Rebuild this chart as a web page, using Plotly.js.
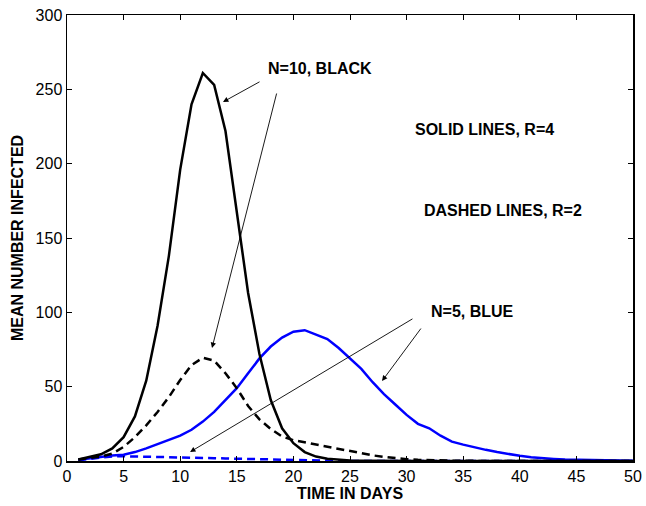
<!DOCTYPE html>
<html>
<head>
<meta charset="utf-8">
<script src="https://cdn.plot.ly/plotly-3.0.1.min.js"></script>
<style>html,body{margin:0;padding:0;background:#fff;}#chart{width:646px;height:506px;}</style>
</head>
<body>
<div id="chart"></div>
<script>
var days = [1,2,3,4,5,6,7,8,9,10,11,12,13,14,15,16,17,18,19,20,21,22,23,24,25,26,27,28,29,30,31,32,33,34,35,36,37,38,39,40,41,42,43,44,45,46,47,48,49,50];

// N=10, R=4 (solid black)
var blackSolid = [1,2.5,4.5,8.5,16,30,54,91,138,196,240,261,253,222,168,113,72,41,22,12,6,3,1.5,0.8,0.4,0.2,0.1,0,0,0,0,0,0,0,0,0,0,0,0,0,0,0,0,0,0,0,0,0,0,0];
// N=10, R=2 (dashed black)
var blackDashed = [1,2,3,5,9.5,16,24,33,43,54.5,64.5,69.5,67.5,59,49,37,28,21.5,16.5,14,12.5,11,10,8.5,6.5,5,3.8,2.8,1.9,1.2,0.8,0.5,0.3,0.2,0.1,0,0,0,0,0,0,0,0,0,0,0,0,0,0,0];
// N=5, R=4 (solid blue)
var blueSolid = [0.8,1.8,3,3.7,4.2,6,8.5,11.5,14,17,21,26.5,33,41,49,59,69,77,83,87,88,85,82,76,69,62,53,45,38,31,25,22,17,13,11,9,7.5,6,4.5,3.5,2.5,1.8,1.4,1,0.8,0.6,0.4,0.3,0.2,0.1];
// N=5, R=2 (dashed blue)
var blueDashed = [0.5,1.5,2.5,3.1,3.2,3.1,2.9,2.8,2.6,2.5,2.3,2.1,1.9,1.7,1.5,1.3,1.1,0.9,0.8,0.6,0.5,0.3,0.2,0.1,0.05,0,0,0,0,0,0,0,0,0,0,0,0,0,0,0,0,0,0,0,0,0,0,0,0,0];

var xTicks = [0,5,10,15,20,25,30,35,40,45,50];
var yTicks = [0,50,100,150,200,250,300];

var xTitle = 'TIME IN DAYS';
var yTitle = 'MEAN NUMBER INFECTED';
var labelN10 = 'N=10, BLACK';
var labelN5 = 'N=5, BLUE';
var labelSolid = 'SOLID LINES, R=4';
var labelDashed = 'DASHED LINES, R=2';

var BLUE = '#0000ff';
var FONT = 'Liberation Sans, Arial, Helvetica, sans-serif';

var traces = [
  {x: days, y: blueDashed, mode: 'lines', line: {color: BLUE, width: 2.5, dash: '8px,5px'}, hoverinfo: 'skip'},
  {x: days, y: blueSolid, mode: 'lines', line: {color: BLUE, width: 2.5}, hoverinfo: 'skip'},
  {x: days, y: blackDashed, mode: 'lines', line: {color: '#000', width: 2.5, dash: '8px,5px'}, hoverinfo: 'skip'},
  {x: days, y: blackSolid, mode: 'lines', line: {color: '#000', width: 2.5}, hoverinfo: 'skip'}
];

function arrow(tx, ty, hx, hy) {
  return {x: hx, y: hy, ax: tx, ay: ty, xref: 'x', yref: 'y', axref: 'x', ayref: 'y',
    text: '', showarrow: true, arrowhead: 2, arrowsize: 1.2, arrowwidth: 0.9, arrowcolor: '#000', standoff: 0, startstandoff: 0};
}
function label(t, x, y) {
  return {x: x, y: y, xref: 'x', yref: 'y', text: t, showarrow: false,
    font: {family: FONT, size: 16, color: '#000', weight: 'bold'}, xanchor: 'center', yanchor: 'middle'};
}

var layout = {
  width: 646, height: 506,
  margin: {l: 67, r: 13, t: 15, b: 45},
  paper_bgcolor: '#fff', plot_bgcolor: '#fff',
  showlegend: false,
  font: {family: FONT, size: 16, color: '#000'},
  xaxis: {
    range: [0, 50], tickvals: xTicks, ticktext: xTicks.map(String),
    ticks: 'inside', ticklen: 5, tickwidth: 1, tickcolor: '#000',
    showline: true, linecolor: '#000', linewidth: 1.5, mirror: 'ticks',
    showgrid: false, zeroline: false,
    tickfont: {family: FONT, size: 16, color: '#000'},
    title: {text: xTitle, font: {family: FONT, size: 16, color: '#000', weight: 'bold'}, standoff: 4}
  },
  yaxis: {
    range: [0, 300], tickvals: yTicks, ticktext: yTicks.map(String),
    ticks: 'inside', ticklen: 5, tickwidth: 1, tickcolor: '#000',
    showline: true, linecolor: '#000', linewidth: 1.5, mirror: 'ticks',
    showgrid: false, zeroline: false,
    tickfont: {family: FONT, size: 16, color: '#000'},
    title: {text: yTitle, font: {family: FONT, size: 16, color: '#000', weight: 'bold'}, standoff: 8}
  },
  annotations: [
    label(labelN10, 22.35, 264.3),
    label(labelN5, 35.78, 100.9),
    label(labelSolid, 36.84, 223.3),
    label(labelDashed, 38.52, 168.8),
    arrow(17.14, 255.6, 13.78, 241.5),
    arrow(18.55, 248.2, 12.81, 76.0),
    arrow(30.65, 96.2, 10.87, 6.05),
    arrow(31.36, 90.1, 27.83, 53.8)
  ]
};

Plotly.newPlot('chart', traces, layout, {displayModeBar: false, staticPlot: true});
</script>
</body>
</html>
